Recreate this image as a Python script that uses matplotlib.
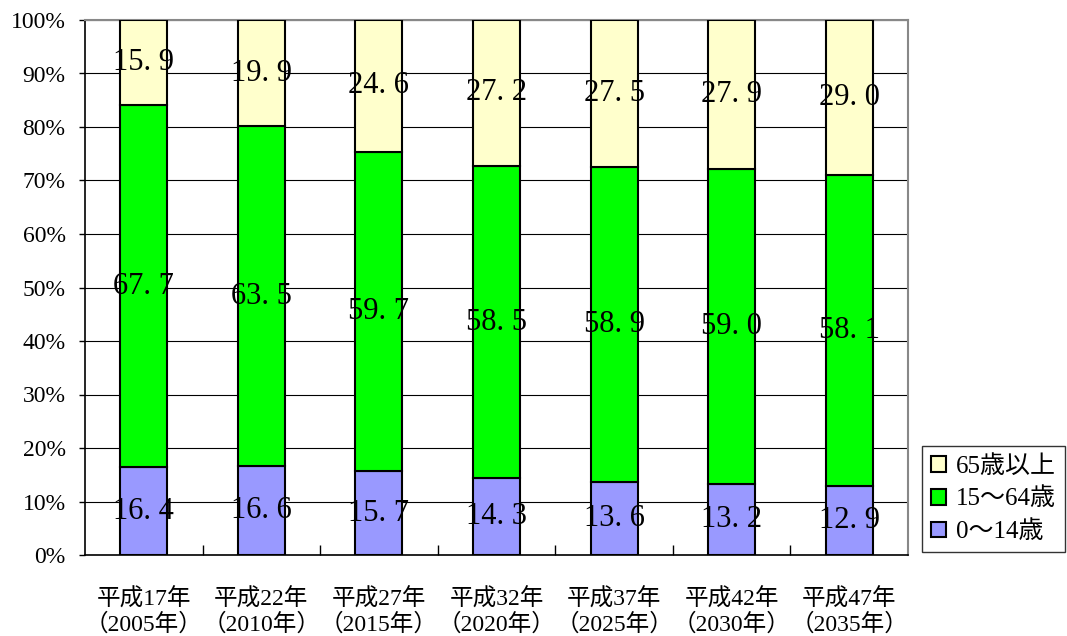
import matplotlib.pyplot as plt
import numpy as np

plt.rcParams['font.family'] = ['Liberation Serif', 'Noto Sans CJK JP']

# 年齢3区分別人口割合 (%)
years = ['平成17年\n（2005年）', '平成22年\n（2010年）', '平成27年\n（2015年）',
         '平成32年\n（2020年）', '平成37年\n（2025年）', '平成42年\n（2030年）',
         '平成47年\n（2035年）']
young = [16.4, 16.6, 15.7, 14.3, 13.6, 13.2, 12.9]      # 0～14歳
working = [67.7, 63.5, 59.7, 58.5, 58.9, 59.0, 58.1]    # 15～64歳
old = [15.9, 19.9, 24.6, 27.2, 27.5, 27.9, 29.0]        # 65歳以上

names = ['0～14歳', '15～64歳', '65歳以上']
colors = ['#9999FF', '#00FF00', '#FFFFCC']

series = np.array([young, working, old])
share = series / series.sum(axis=0) * 100   # 100% stacked

fig = plt.figure(figsize=(10.67, 6.36), dpi=100)
ax = fig.add_axes([85 / 1067, 81 / 636, 823 / 1067, 535 / 636])

x = np.arange(len(years))
bottom = np.zeros(len(years))
for k in range(3):
    ax.bar(x, share[k], 0.4, bottom=bottom, color=colors[k],
           edgecolor='black', linewidth=1.5, label=names[k], zorder=3)
    for i in range(len(years)):
        ax.text(x[i], bottom[i] + share[k][i] / 2,
                ('%.1f' % series[k][i]).replace('.', '. '),
                ha='center', va='center', fontsize=22, zorder=4)
    bottom += share[k]

ax.set_xlim(-0.5, len(years) - 0.5)
ax.set_ylim(0, 100)
ax.set_yticks(np.arange(0, 101, 10))
ax.set_yticklabels(['%d%%' % v for v in range(0, 101, 10)], fontsize=17)
ax.set_xticks(x)
ax.set_xticklabels(years, fontsize=17, linespacing=1.15)
ax.set_xticks(np.arange(0.5, len(years) - 1, 1), minor=True)
ax.tick_params(axis='x', which='major', length=0, pad=24)
ax.tick_params(axis='x', which='minor', direction='in', length=7, width=1)
ax.tick_params(axis='y', direction='out', length=4, width=1, pad=10)

ax.grid(axis='y', color='black', linewidth=0.8, zorder=0)
ax.set_axisbelow(True)
for s in ['left', 'bottom']:
    ax.spines[s].set_color('black')
    ax.spines[s].set_linewidth(1.2)
for s in ['top', 'right']:
    ax.spines[s].set_color('#888888')
    ax.spines[s].set_linewidth(1.5)

handles, labels = ax.get_legend_handles_labels()
leg = fig.legend(handles[::-1], labels[::-1], loc='lower left',
                 bbox_to_anchor=(922 / 1067, 84 / 636), fontsize=18,
                 frameon=True, fancybox=False, edgecolor='black',
                 handlelength=0.6, handleheight=0.6, handletextpad=0.4,
                 borderpad=0.35, labelspacing=0.4, borderaxespad=0)
leg.get_frame().set_linewidth(1.0)

plt.savefig('out.png', dpi=100)
